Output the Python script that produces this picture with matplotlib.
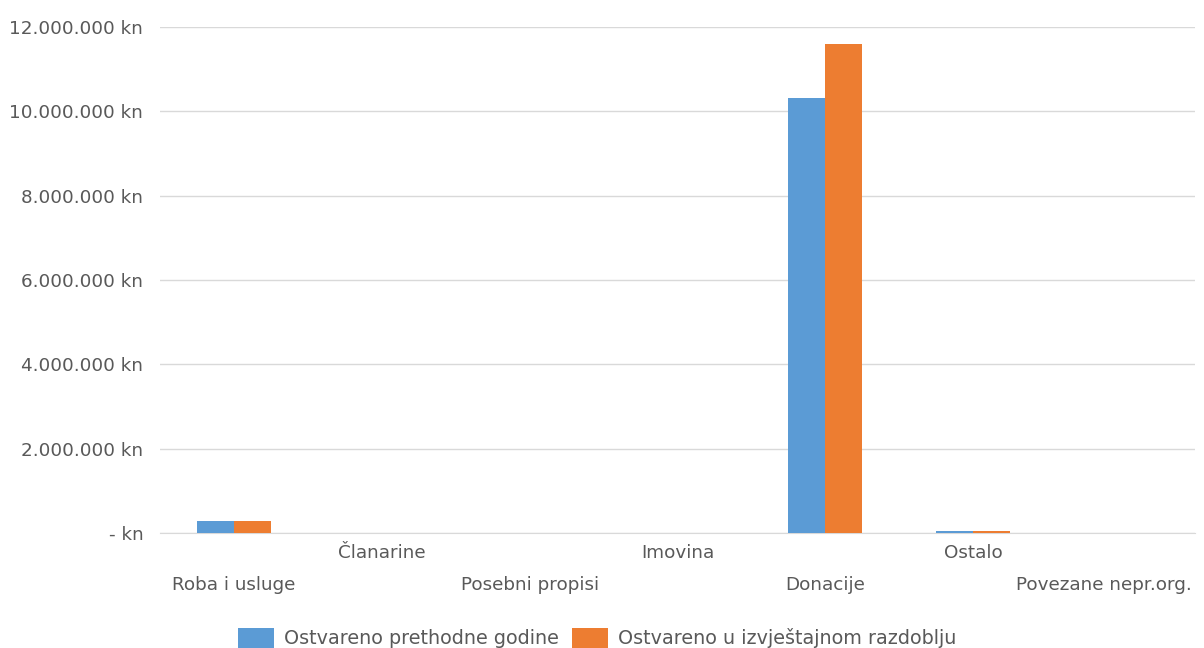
import numpy as np
from matplotlib import pyplot as plt
from matplotlib import transforms
from matplotlib.ticker import FuncFormatter

categories = ["Roba i usluge", "Članarine", "Posebni propisi", "Imovina",
              "Donacije", "Ostalo", "Povezane nepr.org."]
prethodne = [290000, 0, 0, 0, 10320000, 50000, 0]
izvjestajno = [290000, 0, 0, 0, 11600000, 50000, 0]
series_names = ["Ostvareno prethodne godine", "Ostvareno u izvještajnom razdoblju"]

BLUE = "#5B9BD5"
ORANGE = "#ED7D31"
TEXT = "#595959"
GRID = "#D9D9D9"
FS = 13.2


def kn_format(v, pos):
    if v == 0:
        return "- kn"
    return f"{int(v):,} kn".replace(",", ".")


fig = plt.figure(figsize=(12.04, 6.48), dpi=100)
ax = fig.add_axes([160 / 1204, 115 / 648, 1035 / 1204, 506 / 648])

x = np.arange(len(categories))
w = 0.25
ax.bar(x - w / 2, prethodne, w, color=BLUE, label=series_names[0], zorder=3)
ax.bar(x + w / 2, izvjestajno, w, color=ORANGE, label=series_names[1], zorder=3)

ax.set_xlim(-0.5, len(categories) - 0.5)
ax.set_ylim(0, 12000000)
ax.set_yticks(np.arange(0, 12000001, 2000000))
ax.yaxis.set_major_formatter(FuncFormatter(kn_format))
ax.tick_params(axis="y", length=0, pad=12, labelsize=FS, labelcolor=TEXT)
ax.grid(axis="y", color=GRID, linewidth=1, zorder=0)
ax.set_xticks([])
for s in ["top", "right", "left"]:
    ax.spines[s].set_visible(False)
ax.spines["bottom"].set_color(GRID)

# staggered category labels
trans = ax.get_xaxis_transform()
for i, name in enumerate(categories):
    y = -0.04 if i % 2 else -0.103
    t = trans
    if i == len(categories) - 1:
        t = trans + transforms.ScaledTranslation(-17 / 100, 0, fig.dpi_scale_trans)
    ax.text(i, y, name, transform=t, ha="center", va="center",
            fontsize=FS, color=TEXT)

handles, labels = ax.get_legend_handles_labels()
fig.legend(handles, labels, loc="center", bbox_to_anchor=(0.496, 1 - 638 / 648),
           ncol=2, frameon=False, fontsize=13.8, labelcolor=TEXT,
           handlelength=1.88, handleheight=1.3, handletextpad=0.52,
           columnspacing=0.73, borderpad=0)

fig.savefig("out.png", dpi=100)
